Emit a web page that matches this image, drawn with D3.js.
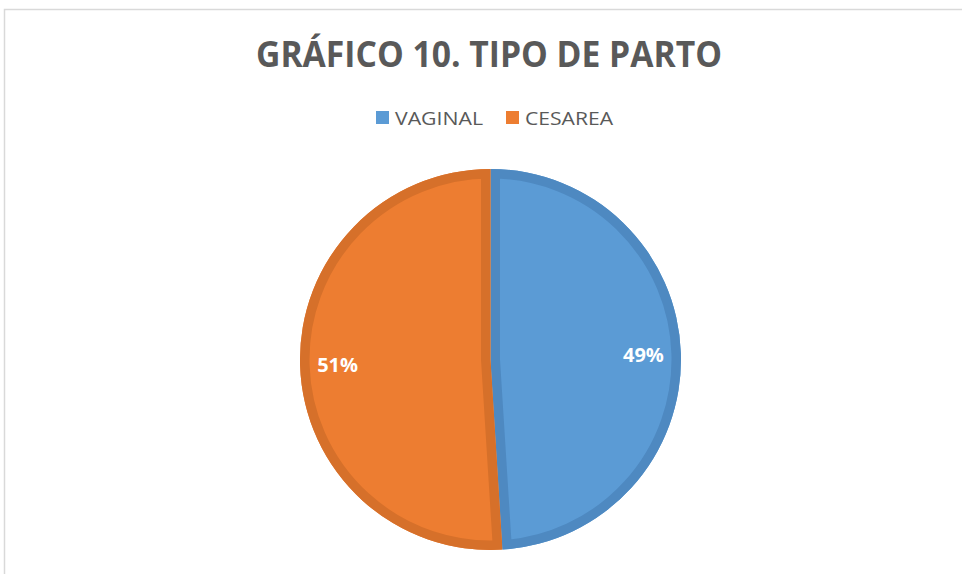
<!DOCTYPE html>
<html>
<head>
<meta charset="utf-8">
<script src="https://cdn.jsdelivr.net/npm/d3@7"></script>
<style>
  html, body { margin: 0; padding: 0; background: #fff; }
  svg { display: block; }
</style>
</head>
<body>
<div id="chart"></div>
<script>
// Chart data
const categories = ['VAGINAL', 'CESAREA'];
const values = [49, 51];
const fillColors = ['#5B9BD5', '#ED7D31'];
const edgeColors = ['#4E89C1', '#D6702A'];
const titleText = 'GRÁFICO 10. TIPO DE PARTO';

const width = 962;
const height = 574;
const cx = 490.5;
const cy = 359.5;
const radius = 190.5;

const svg = d3.select('#chart')
    .append('svg')
    .attr('width', width)
    .attr('height', height);

// Chart frame (only top and left edges are visible in the picture)
svg.append('path')
    .attr('d', `M4.5,${height} L4.5,9.5 L${width},9.5`)
    .attr('fill', 'none')
    .attr('stroke', '#d9d9d9')
    .attr('stroke-width', 1.5);

// Title
svg.append('text')
    .attr('x', 489)
    .attr('y', 67)
    .attr('text-anchor', 'middle')
    .attr('font-family', '"Open Sans", sans-serif')
    .attr('font-weight', 'bold')
    .attr('font-size', '36px')
    .attr('fill', '#595959')
    .attr('textLength', 466)
    .attr('lengthAdjust', 'spacingAndGlyphs')
    .text(titleText);

// Legend
const legend = svg.append('g').attr('class', 'legend');
const legendX = [376, 506];
categories.forEach((c, i) => {
    legend.append('rect')
        .attr('x', legendX[i])
        .attr('y', 111)
        .attr('width', 13)
        .attr('height', 13)
        .attr('fill', fillColors[i]);
    legend.append('text')
        .attr('x', legendX[i] + 19)
        .attr('y', 125)
        .attr('font-family', '"Open Sans", sans-serif')
        .attr('font-size', '19px')
        .attr('fill', '#595959')
        .attr('textLength', 88)
        .attr('lengthAdjust', 'spacingAndGlyphs')
        .text(c);
});

// Pie
const pie = d3.pie().sort(null).value(d => d.value);
const arcs = pie(categories.map((c, i) => ({ name: c, value: values[i], i })));

const arc = d3.arc().innerRadius(0).outerRadius(radius);
const labelArc = d3.arc().innerRadius(153).outerRadius(153);

const g = svg.append('g').attr('transform', `translate(${cx},${cy})`);
const defs = svg.append('defs');

arcs.forEach((a, i) => {
    defs.append('clipPath')
        .attr('id', 'clip' + i)
        .append('path')
        .attr('d', arc(a));
});

// Slice fill
g.selectAll('path.slice')
    .data(arcs)
    .enter()
    .append('path')
    .attr('class', 'slice')
    .attr('d', arc)
    .attr('fill', d => fillColors[d.data.i]);

// Darker inset border of each slice
g.selectAll('path.edge')
    .data(arcs)
    .enter()
    .append('path')
    .attr('class', 'edge')
    .attr('d', arc)
    .attr('fill', 'none')
    .attr('stroke', d => edgeColors[d.data.i])
    .attr('stroke-width', 19)
    .attr('stroke-linejoin', 'miter')
    .attr('clip-path', d => `url(#clip${d.data.i})`);

// Labels
g.selectAll('text.label')
    .data(arcs)
    .enter()
    .append('text')
    .attr('class', 'label')
    .attr('transform', d => `translate(${labelArc.centroid(d)})`)
    .attr('text-anchor', 'middle')
    .attr('dy', '0.36em')
    .attr('font-family', '"Open Sans", sans-serif')
    .attr('font-weight', 'bold')
    .attr('font-size', '20px')
    .attr('fill', '#fff')
    .text(d => d.data.value + '%');
</script>
</body>
</html>
